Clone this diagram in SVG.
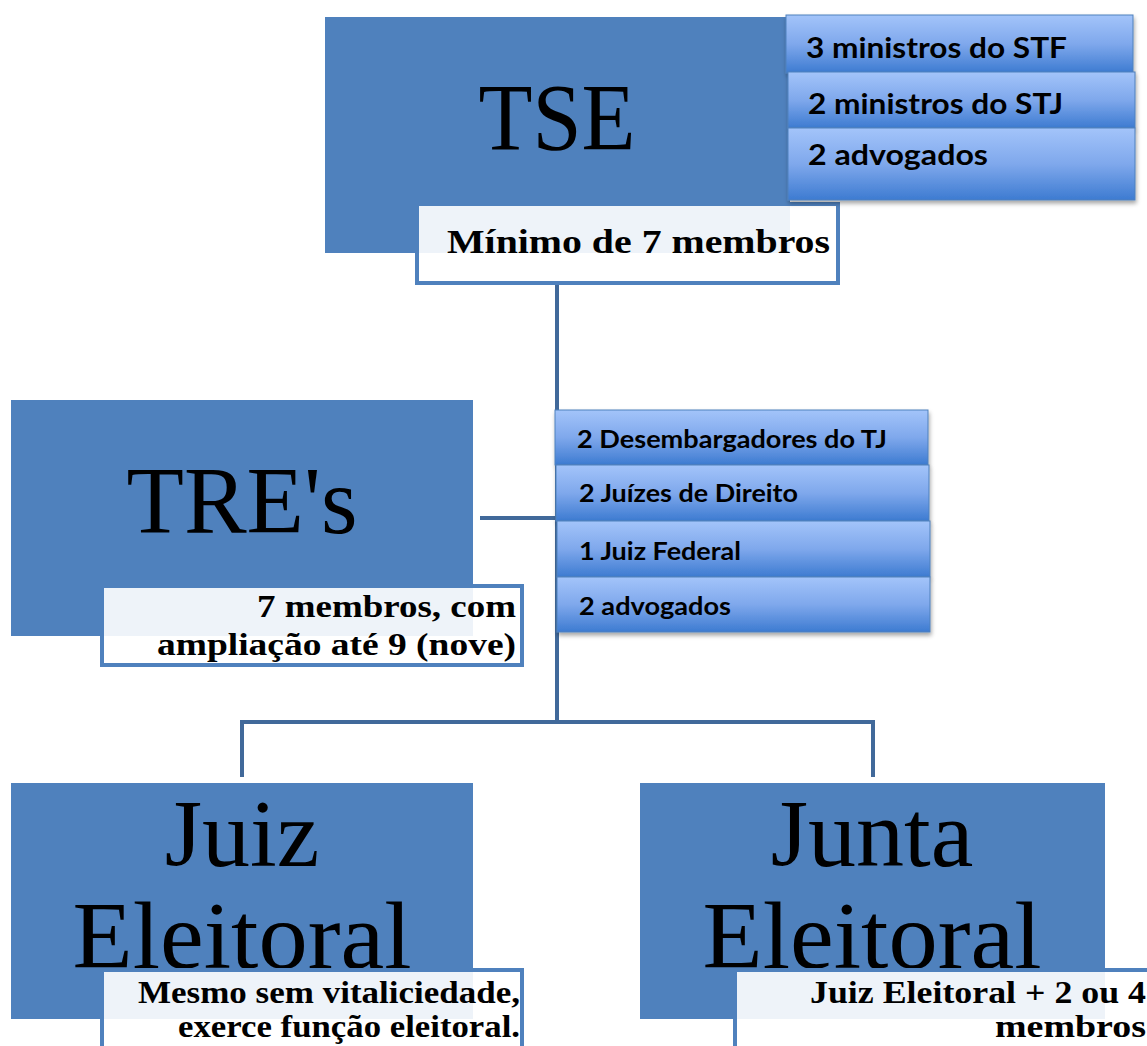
<svg xmlns="http://www.w3.org/2000/svg" width="1147" height="1046" viewBox="0 0 1147 1046">
<defs>
<linearGradient id="itemGrad" x1="0" y1="0" x2="0" y2="1">
<stop offset="0" stop-color="#A3C4FA"/>
<stop offset="0.5" stop-color="#7FA8EC"/>
<stop offset="1" stop-color="#3D7BD1"/>
</linearGradient>
<filter id="shadow" x="-5%" y="-5%" width="115%" height="130%">
<feDropShadow dx="1" dy="3" stdDeviation="2" flood-color="#000" flood-opacity="0.35"/>
</filter>
</defs>
<style>
.box{fill:#4F81BD}
.lbl{fill:#FFFFFF;fill-opacity:0.9;stroke:#4F81BD;stroke-width:4}
.big{font-family:"Liberation Serif","DejaVu Serif",serif;font-size:96px;fill:#000;text-anchor:middle}
.sub{font-family:"Liberation Serif","DejaVu Serif",serif;font-weight:bold;font-size:32px;fill:#000;text-anchor:end}
.item{fill:url(#itemGrad);stroke:#4F81BD;stroke-width:1;filter:url(#shadow)}
.itxt{font-family:Lato,"Open Sans",sans-serif;font-weight:bold;fill:#000}
.conn{fill:none;stroke:#41699A;stroke-width:4}
</style>
<g id="connectors">
<path class="conn" d="M557 285 V720"/>
<path class="conn" d="M480 518 H557"/>
<path class="conn" d="M242 777 V722 H873 V777"/>
</g>
<g id="tse">
<rect class="box" x="325" y="17" width="465" height="236"/>
<text class="big" x="557" y="150" textLength="157" lengthAdjust="spacingAndGlyphs">TSE</text>
<rect class="lbl" x="417" y="204" width="421" height="79"/>
<text class="sub" x="830" y="253" style="font-size:34px" textLength="383" lengthAdjust="spacingAndGlyphs">Mínimo de 7 membros</text>
</g>
<g id="tse-members">
<rect class="item" x="786" y="15" width="347" height="58"/>
<rect class="item" x="788" y="72" width="347" height="56"/>
<rect class="item" x="788" y="128" width="347" height="72"/>
<text class="itxt" x="806" y="58" font-size="28" textLength="261" lengthAdjust="spacingAndGlyphs">3 ministros do STF</text>
<text class="itxt" x="808" y="114" font-size="28" textLength="255" lengthAdjust="spacingAndGlyphs">2 ministros do STJ</text>
<text class="itxt" x="808" y="165" font-size="28" textLength="180" lengthAdjust="spacingAndGlyphs">2 advogados</text>
</g>
<g id="tre">
<rect class="box" x="11" y="400" width="462" height="236"/>
<text class="big" x="242" y="533" textLength="231" lengthAdjust="spacingAndGlyphs">TRE's</text>
<rect class="lbl" x="102" y="586" width="420" height="79"/>
<text class="sub" x="516" y="617" textLength="259" lengthAdjust="spacingAndGlyphs">7 membros, com</text>
<text class="sub" x="516" y="655" textLength="359" lengthAdjust="spacingAndGlyphs">ampliação até 9 (nove)</text>
</g>
<g id="tre-members">
<rect class="item" x="555" y="410" width="373" height="55"/>
<rect class="item" x="556" y="465" width="373" height="56"/>
<rect class="item" x="557" y="521" width="373" height="56"/>
<rect class="item" x="557" y="577" width="373" height="55"/>
<text class="itxt" x="577" y="448" font-size="25" textLength="310" lengthAdjust="spacingAndGlyphs">2 Desembargadores do TJ</text>
<text class="itxt" x="579" y="502" font-size="25" textLength="219" lengthAdjust="spacingAndGlyphs">2 Juízes de Direito</text>
<text class="itxt" x="579" y="560" font-size="25" textLength="162" lengthAdjust="spacingAndGlyphs">1 Juiz Federal</text>
<text class="itxt" x="579" y="615" font-size="25" textLength="152" lengthAdjust="spacingAndGlyphs">2 advogados</text>
</g>
<g id="juiz">
<rect class="box" x="11" y="783" width="462" height="236"/>
<text class="big" x="242" y="866">Juiz</text>
<text class="big" x="242" y="968" textLength="339" lengthAdjust="spacingAndGlyphs">Eleitoral</text>
<rect class="lbl" x="102" y="970" width="420" height="90"/>
<text class="sub" x="520" y="1003" style="font-size:31px" textLength="382" lengthAdjust="spacingAndGlyphs">Mesmo sem vitaliciedade,</text>
<text class="sub" x="520" y="1037" style="font-size:31px" textLength="342" lengthAdjust="spacingAndGlyphs">exerce função eleitoral.</text>
</g>
<g id="junta">
<rect class="box" x="640" y="783" width="465" height="236"/>
<text class="big" x="872" y="866">Junta</text>
<text class="big" x="872" y="968" textLength="339" lengthAdjust="spacingAndGlyphs">Eleitoral</text>
<rect class="lbl" x="735" y="970" width="440" height="90"/>
<text class="sub" x="1146" y="1003" style="font-size:31px" textLength="336" lengthAdjust="spacingAndGlyphs">Juiz Eleitoral + 2 ou 4</text>
<text class="sub" x="1146" y="1037" style="font-size:31px" textLength="151" lengthAdjust="spacingAndGlyphs">membros</text>
</g>
</svg>
